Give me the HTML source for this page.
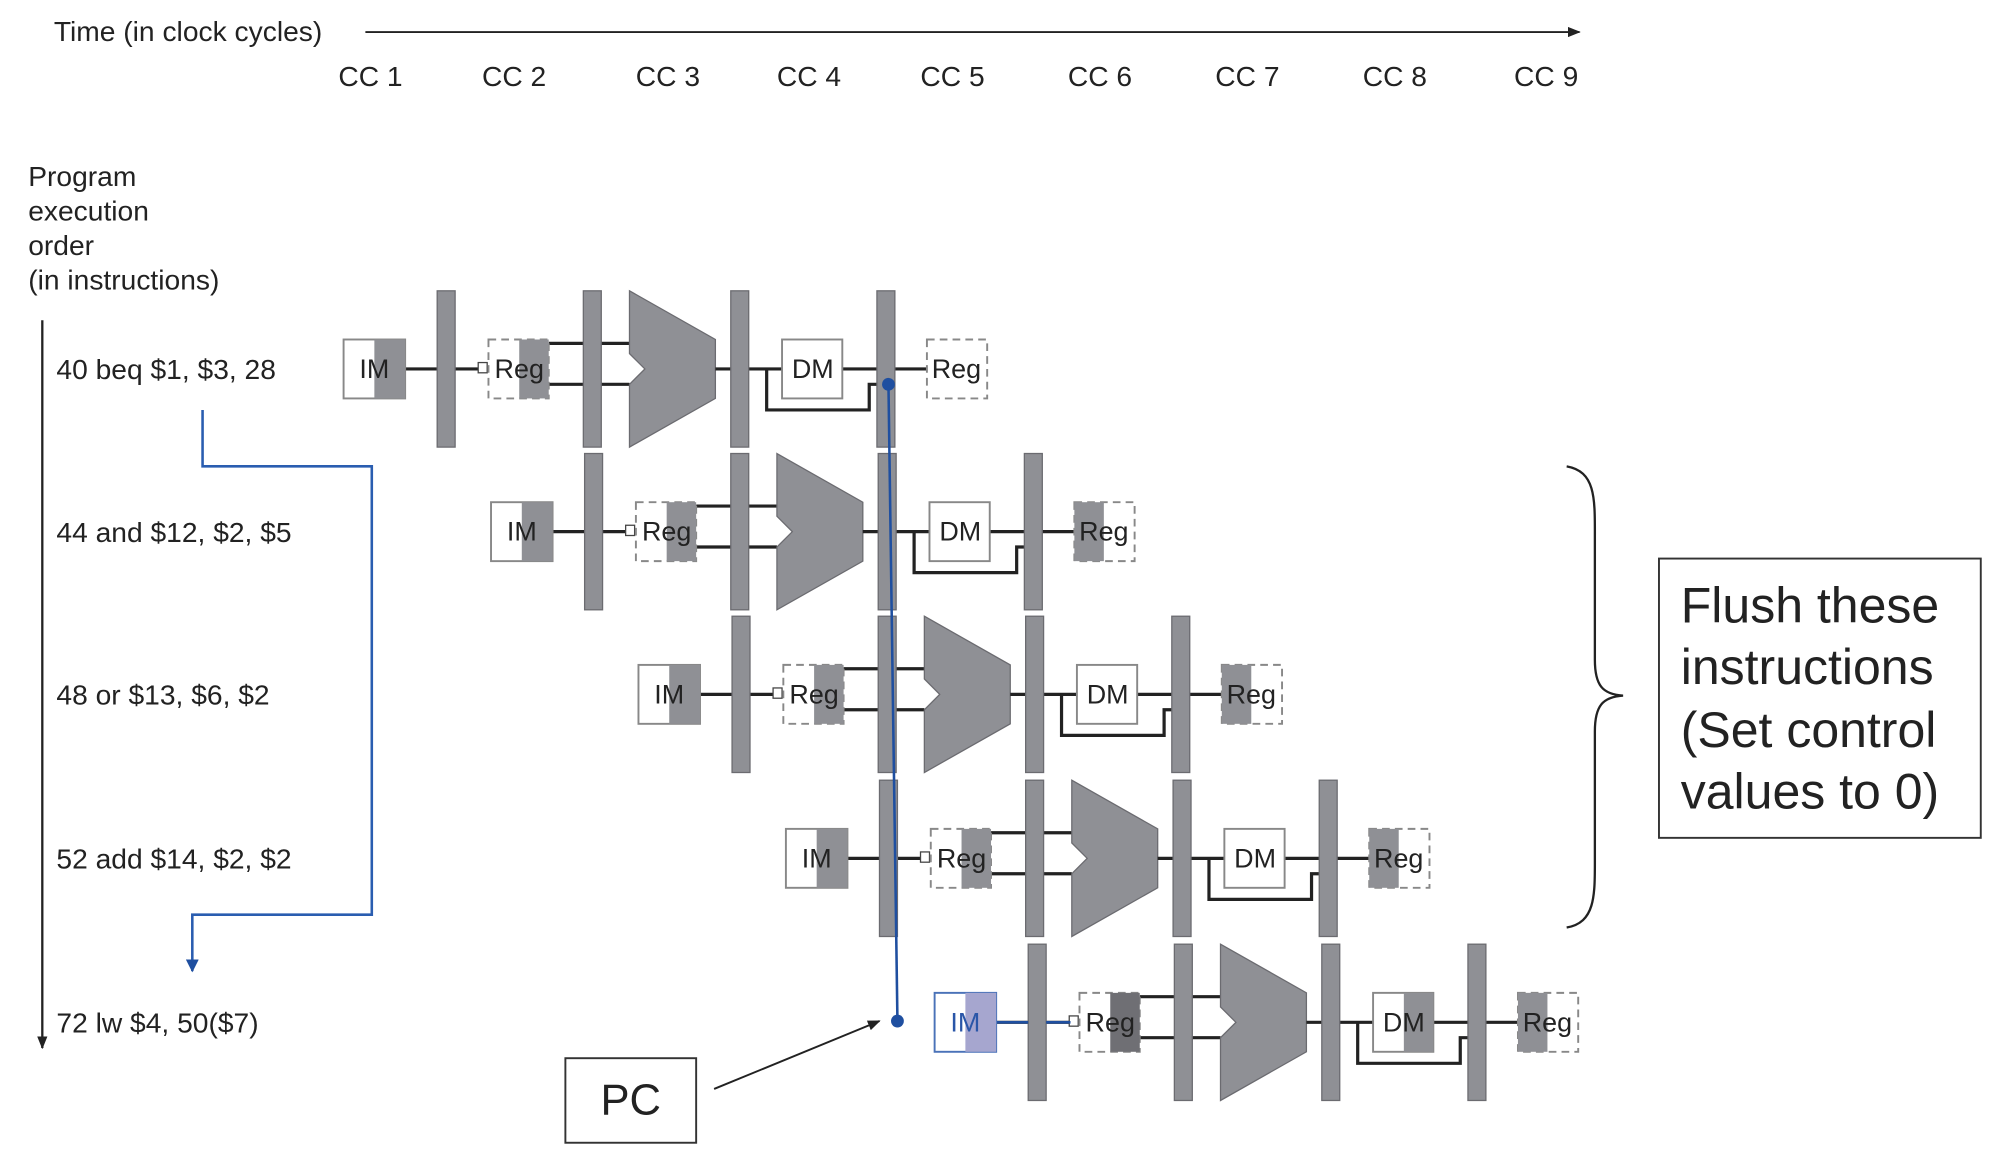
<!DOCTYPE html>
<html><head><meta charset="utf-8"><style>
html,body{margin:0;padding:0;background:#fff;width:2000px;height:1153px;overflow:hidden}
svg{display:block}
text{font-family:"Liberation Sans",Arial,sans-serif;fill:#222}
</style></head><body>
<svg width="2000" height="1153" viewBox="0 0 1560 900" preserveAspectRatio="none">
<defs>
<marker id="ah" markerWidth="10" markerHeight="8" refX="9" refY="4" orient="auto" markerUnits="userSpaceOnUse"><path d="M0,0 L10,4 L0,8 z" fill="#222"/></marker>
<marker id="ahb" markerWidth="10" markerHeight="10" refX="5" refY="9" orient="0" markerUnits="userSpaceOnUse"><path d="M0,0 L10,0 L5,10 z" fill="#1f4fa0"/></marker>
<g id="core">
  <line x1="316" y1="288" x2="341" y2="288" stroke="#222" stroke-width="2.5"/>
  <line x1="355" y1="288" x2="374" y2="288" stroke="#222" stroke-width="2.5"/>
  <rect x="373" y="283" width="7" height="8" fill="#fff" stroke="#444" stroke-width="1"/>
  <line x1="428" y1="268" x2="491" y2="268" stroke="#222" stroke-width="2.5"/>
  <line x1="428" y1="300" x2="491" y2="300" stroke="#222" stroke-width="2.5"/>
  <rect x="341" y="227" width="14" height="122" fill="#8f9095" stroke="#6b6b70" stroke-width="1"/>
  <rect x="455" y="227" width="14" height="122" fill="#8f9095" stroke="#6b6b70" stroke-width="1"/>
  <polygon points="491,227 558,265 558,311 491,349 491,300 503,288 491,276" fill="#8f9095" stroke="#6b6b70" stroke-width="1"/>
  <line x1="558" y1="288" x2="610" y2="288" stroke="#222" stroke-width="2.5"/>
  <rect x="570" y="227" width="14" height="122" fill="#8f9095" stroke="#6b6b70" stroke-width="1"/>
  <line x1="657" y1="288" x2="723" y2="288" stroke="#222" stroke-width="2.5"/>
  <polyline points="598,288 598,320 678,320 678,300 686,300" fill="none" stroke="#222" stroke-width="2.5"/>
  <rect x="684" y="227" width="14" height="122" fill="#8f9095" stroke="#6b6b70" stroke-width="1"/>
</g>
<g id="im"><rect x="268" y="265" width="48" height="46" fill="#fff" stroke="#888" stroke-width="1.5"/><rect x="292" y="265" width="24" height="46" fill="#8f9095"/></g>
<g id="reg2"><rect x="381" y="265" width="47" height="46" fill="#fff" stroke="#888" stroke-width="1.5" stroke-dasharray="6,4"/><rect x="405" y="265" width="23" height="46" fill="#8f9095"/></g>
<g id="dm"><rect x="610" y="265" width="47" height="46" fill="#fff" stroke="#888" stroke-width="1.5"/></g>
<g id="reg5"><rect x="723" y="265" width="47" height="46" fill="#fff" stroke="#888" stroke-width="1.5" stroke-dasharray="6,4"/><rect x="723" y="265" width="23" height="46" fill="#8f9095"/></g>
</defs>

<text x="42" y="32" font-size="22">Time (in clock cycles)</text>
<line x1="285" y1="25" x2="1232" y2="25" stroke="#222" stroke-width="1.5" marker-end="url(#ah)"/>
<g font-size="22" text-anchor="middle">
<text x="289" y="67">CC 1</text><text x="401" y="67">CC 2</text><text x="521" y="67">CC 3</text><text x="631" y="67">CC 4</text><text x="743" y="67">CC 5</text><text x="858" y="67">CC 6</text><text x="973" y="67">CC 7</text><text x="1088" y="67">CC 8</text><text x="1206" y="67">CC 9</text>
</g>
<g font-size="22">
<text x="22" y="145">Program</text><text x="22" y="172">execution</text><text x="22" y="199">order</text><text x="22" y="226">(in instructions)</text>
<text x="44" y="296">40 beq $1, $3, 28</text>
<text x="44" y="423">44 and $12, $2, $5</text>
<text x="44" y="550">48 or $13, $6, $2</text>
<text x="44" y="678">52 add $14, $2, $2</text>
<text x="44" y="806">72 lw $4, 50($7)</text>
</g>
<line x1="33" y1="250" x2="33" y2="818" stroke="#222" stroke-width="1.8" marker-end="url(#ah)"/>

<use href="#core"/><use href="#im"/><use href="#reg2"/><use href="#dm"/>
<rect x="723" y="265" width="47" height="46" fill="#fff" stroke="#888" stroke-width="1.5" stroke-dasharray="6,4"/>
<g transform="translate(115,127)"><use href="#core"/><use href="#im"/><use href="#reg2"/><use href="#dm"/><use href="#reg5"/></g>
<g transform="translate(230,254)"><use href="#core"/><use href="#im"/><use href="#reg2"/><use href="#dm"/><use href="#reg5"/></g>
<g transform="translate(345,382)"><use href="#core"/><use href="#im"/><use href="#reg2"/><use href="#dm"/><use href="#reg5"/></g>
<g transform="translate(461,510)"><use href="#core"/>
<line x1="316" y1="288" x2="341" y2="288" stroke="#1f4fa0" stroke-width="2"/>
<line x1="355" y1="288" x2="374" y2="288" stroke="#1f4fa0" stroke-width="2"/>
<rect x="268" y="265" width="48" height="46" fill="#fff" stroke="#4a72b8" stroke-width="1.5"/><rect x="292" y="265" width="24" height="46" fill="#a6a6cf"/>
<rect x="381" y="265" width="47" height="46" fill="#fff" stroke="#888" stroke-width="1.5" stroke-dasharray="6,4"/><rect x="405" y="265" width="23" height="46" fill="#6f6f74"/>
<rect x="610" y="265" width="47" height="46" fill="#fff" stroke="#888" stroke-width="1.5"/><rect x="634" y="265" width="23" height="46" fill="#8f9095"/>
<use href="#reg5"/></g>

<g font-size="21" text-anchor="middle">
<text x="292" y="295">IM</text><text x="405" y="295">Reg</text><text x="634" y="295">DM</text><text x="746" y="295">Reg</text>
<text x="407" y="422">IM</text><text x="520" y="422">Reg</text><text x="749" y="422">DM</text><text x="861" y="422">Reg</text>
<text x="522" y="549">IM</text><text x="635" y="549">Reg</text><text x="864" y="549">DM</text><text x="976" y="549">Reg</text>
<text x="637" y="677">IM</text><text x="750" y="677">Reg</text><text x="979" y="677">DM</text><text x="1091" y="677">Reg</text>
<text x="753" y="805" style="fill:#2a56a8">IM</text><text x="866" y="805">Reg</text><text x="1095" y="805">DM</text><text x="1207" y="805">Reg</text>
</g>

<polyline points="158,320 158,364 290,364 290,714 150,714 150,758" fill="none" stroke="#2a5db0" stroke-width="2" marker-end="url(#ahb)"/>
<line x1="693" y1="300" x2="700" y2="797" stroke="#1f4fa0" stroke-width="2"/>
<circle cx="693" cy="300" r="5" fill="#1f4fa0"/>
<circle cx="700" cy="797" r="5" fill="#1f4fa0"/>

<rect x="441" y="826" width="102" height="66" fill="#fff" stroke="#333" stroke-width="1.5"/>
<text x="492" y="870" font-size="34" text-anchor="middle">PC</text>
<line x1="557" y1="850" x2="686" y2="797" stroke="#222" stroke-width="1.5" marker-end="url(#ah)"/>

<path d="M1222,364 C1245,368 1244,390 1244,420 L1244,515 C1244,535 1250,542 1266,543 C1250,544 1244,551 1244,571 L1244,668 C1244,698 1245,720 1222,724" fill="none" stroke="#222" stroke-width="1.8"/>

<rect x="1294" y="436" width="251" height="218" fill="#fff" stroke="#333" stroke-width="1.5"/>
<g font-size="39">
<text x="1311" y="486">Flush these</text>
<text x="1311" y="534">instructions</text>
<text x="1311" y="583">(Set control</text>
<text x="1311" y="631">values to 0)</text>
</g>
</svg>
</body></html>
